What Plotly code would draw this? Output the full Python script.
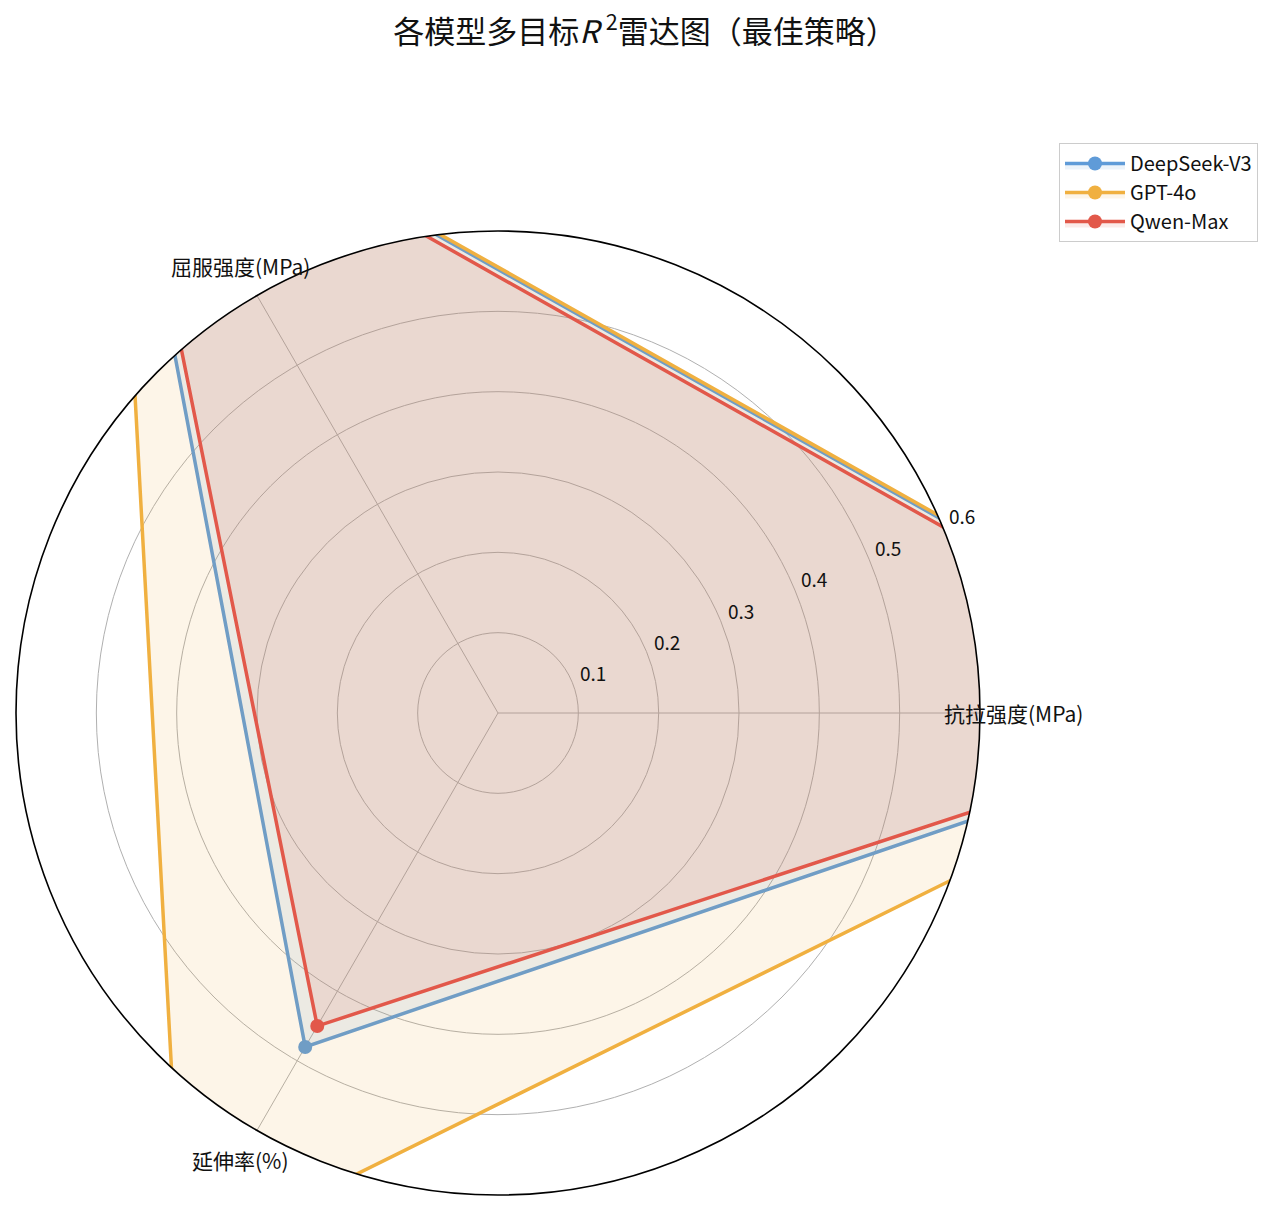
import math
import plotly.graph_objects as go

# Data
categories = ["抗拉强度(MPa)", "屈服强度(MPa)", "延伸率(%)"]
cat_angles = [0, 120, 240]
models = ["DeepSeek-V3", "GPT-4o", "Qwen-Max"]
deepseek_r2 = [0.98, 0.945, 0.48]
gpt4o_r2 = [0.985, 0.95, 0.787]
qwen_r2 = [0.965, 0.93, 0.45]
radial_ticks = [0.1, 0.2, 0.3, 0.4, 0.5, 0.6]
radial_tick_labels = ["0.1", "0.2", "0.3", "0.4", "0.5", "0.6"]

colors = ["#5f9bd8", "#f0b040", "#e2584a"]
fills = ["rgba(95,155,216,0.12)", "rgba(240,176,64,0.12)", "rgba(226,88,74,0.12)"]
series = [deepseek_r2, gpt4o_r2, qwen_r2]

FONT = "Noto Sans CJK SC, Noto Sans, sans-serif"
RMAX = 0.6

fig = go.Figure()
for name, vals, c, fc in zip(models, series, colors, fills):
    fig.add_trace(go.Scatterpolar(
        r=vals + vals[:1],
        theta=cat_angles + [360],
        mode="lines+markers",
        name=name,
        line=dict(color=c, width=3.5),
        marker=dict(color=c, size=14),
        fill="toself",
        fillcolor=fc,
        cliponaxis=True,
    ))

W, H = 1280, 1213
OFF = 8  # page body margin
cx, cy, R = 498 - OFF, 713 - OFF, 482


def polar_to_paper(r, theta_deg):
    px = cx + R * (r / RMAX) * math.cos(math.radians(theta_deg))
    py = cy - R * (r / RMAX) * math.sin(math.radians(theta_deg))
    return px / W, 1 - py / H


annotations = []
# Category labels
for lab, ang in zip(categories, cat_angles):
    x, y = polar_to_paper(0.642, ang)
    annotations.append(dict(x=x, y=y, xref="paper", yref="paper", text=lab,
                            showarrow=False, xanchor="center", yanchor="middle",
                            font=dict(family=FONT, size=21, color="#111111")))
# Radial tick labels
for v, lab in zip(radial_ticks, radial_tick_labels):
    x, y = polar_to_paper(v + 0.028, 23)
    annotations.append(dict(x=x, y=y, xref="paper", yref="paper", text=lab,
                            showarrow=False, xanchor="center", yanchor="middle",
                            font=dict(family=FONT, size=19, color="#111111")))

fig.update_layout(
    width=W, height=H,
    margin=dict(l=0, r=0, t=0, b=0),
    paper_bgcolor="white",
    font=dict(family=FONT, color="#111111"),
    title=dict(
        text="各模型多目标<i>R</i> <sup>2</sup>雷达图（最佳策略）",
        x=(645 - OFF) / W, xanchor="center",
        y=1 - (32 - OFF) / H, yanchor="middle", yref="container",
        font=dict(family=FONT, size=31, color="#111111"),
    ),
    polar=dict(
        domain=dict(x=[(cx - R) / W, (cx + R) / W],
                    y=[(H - cy - R) / H, (H - cy + R) / H]),
        bgcolor="white",
        radialaxis=dict(
            range=[0, RMAX],
            tickvals=radial_ticks,
            showticklabels=False,
            ticks="",
            showline=False,
            gridcolor="#b0b0b0",
            gridwidth=1.3,
        ),
        angularaxis=dict(
            thetaunit="degrees",
            rotation=0,
            direction="counterclockwise",
            tickmode="array",
            tickvals=cat_angles,
            showticklabels=False,
            ticks="",
            showline=True,
            linecolor="black",
            linewidth=1.6,
            gridcolor="#b0b0b0",
            gridwidth=1.3,
        ),
    ),
    annotations=annotations,
    legend=dict(
        x=(1059 - OFF) / W, y=1 - (143 - OFF) / H,
        xanchor="left", yanchor="top",
        bgcolor="white",
        bordercolor="#cccccc",
        borderwidth=1,
        font=dict(family=FONT, size=20, color="#111111"),
        itemwidth=60,
        tracegroupgap=0,
    ),
    showlegend=True,
)

fig.write_html("out.html")
